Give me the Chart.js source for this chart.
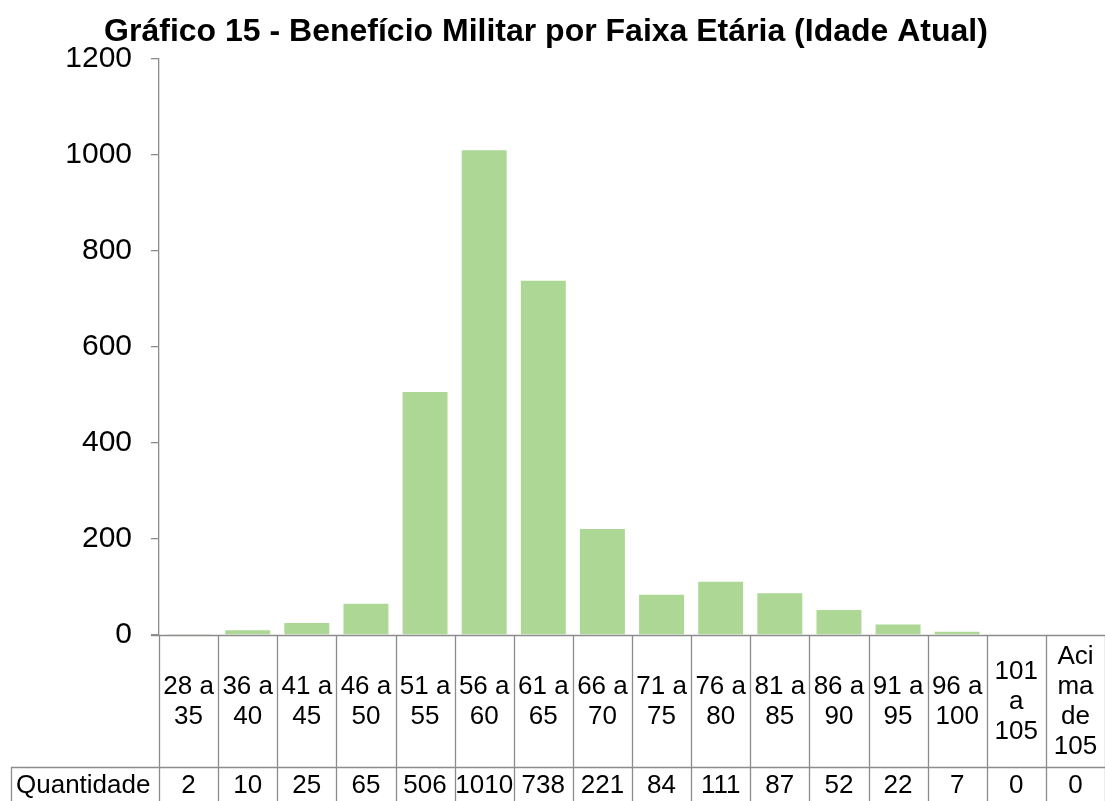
<!DOCTYPE html>
<html>
<head>
<meta charset="utf-8">
<script src="https://cdn.jsdelivr.net/npm/chart.js@4.4.1/dist/chart.umd.min.js"></script>
<style>
html,body{margin:0;padding:0;background:#fff;}
#wrap{width:1105px;height:801px;position:relative;}
</style>
</head>
<body>
<div id="wrap"><canvas id="c" width="1105" height="801"></canvas></div>
<script>
const titleText = "Gráfico 15 - Benefício Militar por Faixa Etária (Idade Atual)";
const categories = [["28 a","35"],["36 a","40"],["41 a","45"],["46 a","50"],["51 a","55"],["56 a","60"],["61 a","65"],["66 a","70"],["71 a","75"],["76 a","80"],["81 a","85"],["86 a","90"],["91 a","95"],["96 a","100"],["101","a","105"],["Aci","ma","de","105"]];
const seriesName = "Quantidade";
const quantidade = [2,10,25,65,506,1010,738,221,84,111,87,52,22,7,0,0];
const yMin = 0, yMax = 1200, yStep = 200;

const FONT = '"Liberation Sans", Arial, Helvetica, sans-serif';
const GRAY = '#8c8c8c';

const tablePlugin = {
  id: 'tablePlugin',
  afterDraw(chart) {
    const ctx = chart.ctx;
    const xs = chart.scales.x;
    const area = chart.chartArea;
    const n = categories.length;
    const w = (area.right - area.left) / n;
    const top = area.bottom;
    const rowY = 767;
    const bottom = 801;
    ctx.save();
    // title
    ctx.fillStyle = '#000';
    ctx.font = 'bold 32px ' + FONT;
    ctx.textAlign = 'center';
    ctx.textBaseline = 'middle';
    ctx.fillText(titleText, 546, 32);
    // lines
    ctx.strokeStyle = GRAY;
    ctx.lineWidth = 1.3;
    ctx.beginPath();
    ctx.moveTo(area.left - 8, top + 0.5);
    ctx.lineTo(1105, top + 0.5);
    ctx.moveTo(11, rowY + 0.5);
    ctx.lineTo(1105, rowY + 0.5);
    ctx.moveTo(11.5, rowY);
    ctx.lineTo(11.5, bottom);
    for (let i = 0; i <= n; i++) {
      const x = Math.round(xs.getPixelForValue(Math.min(i, n - 1)) + (i === n ? w / 2 : -w / 2)) + 0.5;
      ctx.moveTo(x, top);
      ctx.lineTo(x, bottom);
    }
    ctx.stroke();
    // text
    ctx.fillStyle = '#000';
    ctx.font = '26px ' + FONT;
    ctx.textAlign = 'center';
    ctx.textBaseline = 'middle';
    const lh = 30;
    const midY = (top + rowY) / 2 + 1;
    for (let i = 0; i < n; i++) {
      const cx = xs.getPixelForValue(i);
      const lines = categories[i];
      const y0 = midY - (lines.length - 1) * lh / 2;
      lines.forEach((t, k) => ctx.fillText(t, cx, y0 + k * lh));
      ctx.fillText(String(quantidade[i]), cx, 786);
    }
    ctx.textAlign = 'left';
    ctx.fillText(seriesName, 16, 786);
    ctx.restore();
  }
};

new Chart(document.getElementById('c'), {
  type: 'bar',
  data: {
    labels: categories,
    datasets: [{
      label: seriesName,
      data: quantidade,
      backgroundColor: '#ADD795',
      borderWidth: 0,
      barPercentage: 0.76,
      categoryPercentage: 1.0
    }]
  },
  options: {
    responsive: false,
    animation: false,
    layout: { padding: { top: 59, bottom: 166, left: 0, right: 0 } },
    plugins: { legend: { display: false }, title: { display: false }, tooltip: { enabled: false } },
    scales: {
      x: { display: false, offset: true },
      y: {
        min: yMin, max: yMax,
        ticks: { stepSize: yStep, color: '#000', font: { family: FONT, size: 30 }, padding: 19,
                 callback: (v) => String(v) },
        grid: { drawOnChartArea: false, drawTicks: true, tickLength: 8, color: GRAY, lineWidth: 1.3 },
        border: { display: true, color: GRAY, width: 1.3 },
        afterFit(scale) { scale.width = 159; }
      }
    }
  },
  plugins: [tablePlugin]
});
</script>
</body>
</html>
